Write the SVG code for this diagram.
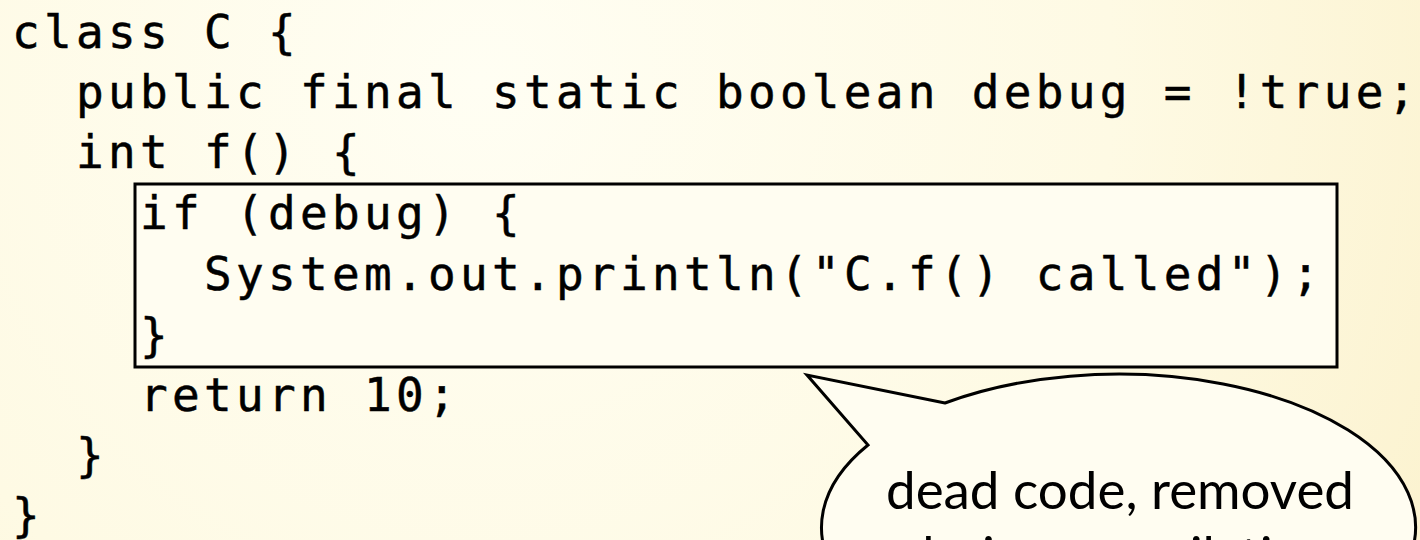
<svg xmlns="http://www.w3.org/2000/svg" width="1420" height="540" viewBox="0 0 1420 540">
  <defs>
    <radialGradient id="bg" cx="480" cy="80" r="1150" gradientUnits="userSpaceOnUse">
      <stop offset="0" stop-color="#FFFEF3"/>
      <stop offset="0.55" stop-color="#FEFAE4"/>
      <stop offset="1" stop-color="#FBF1CB"/>
    </radialGradient>
    <style>
      .code { font-family: "DejaVu Sans Mono", "Liberation Mono", monospace; font-size: 46px; letter-spacing: 4.3px; fill: #000; stroke: #000; stroke-width: 0.5px; }
      .note { font-family: "Lato", "Open Sans", "Liberation Sans", sans-serif; font-size: 52px; fill: #000; }
      .frame { fill: #FFFDF1; stroke: #000; stroke-width: 3; }
    </style>
  </defs>
  <rect x="0" y="0" width="1420" height="540" fill="url(#bg)"/>

  <g id="dead-code-box">
    <rect class="frame" x="135" y="184" width="1202" height="183"/>
  </g>

  <g id="code">
    <text class="code" x="12" y="48">class C {</text>
    <text class="code" x="76" y="108">public final static boolean debug = !true;</text>
    <text class="code" x="76" y="168">int f() {</text>
    <text class="code" x="140" y="229">if (debug) {</text>
    <text class="code" x="204" y="290">System.out.println("C.f() called");</text>
    <text class="code" x="140" y="351">}</text>
    <text class="code" x="140" y="411">return 10;</text>
    <text class="code" x="76" y="471">}</text>
    <text class="code" x="12" y="531">}</text>
  </g>

  <g id="callout">
    <path class="frame" stroke-linejoin="miter" d="M945 403 L807 375 L868 445 A297 153 0 1 0 945 403 Z"/>
    <text class="note" x="1120" y="509" text-anchor="middle" textLength="468" lengthAdjust="spacingAndGlyphs">dead code, removed</text>
    <text class="note" x="1118" y="574" text-anchor="middle">during compilation</text>
  </g>

  <g id="connectors"></g>
</svg>
